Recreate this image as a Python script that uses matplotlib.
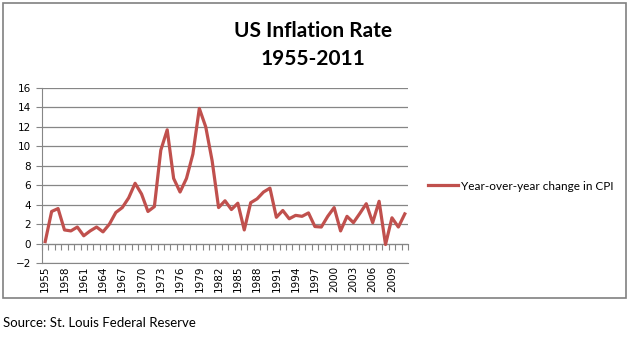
import numpy as np
import matplotlib
matplotlib.use("Agg")
import matplotlib.pyplot as plt
from matplotlib.patches import Rectangle

# ---------------- data ----------------
years = list(range(1955, 2012))
cpi_change = [
    0.2, 3.3, 3.6, 1.4, 1.3, 1.7, 0.8, 1.3, 1.7, 1.2,   # 1955-1964
    2.0, 3.2, 3.7, 4.7, 6.2, 5.1, 3.3, 3.8, 9.6, 11.7,  # 1965-1974
    6.7, 5.3, 6.7, 9.2, 13.9, 12.0, 8.5, 3.7, 4.4, 3.5,  # 1975-1984
    4.15, 1.4, 4.2, 4.6, 5.3, 5.7, 2.7, 3.4, 2.55, 2.9,  # 1985-1994
    2.8, 3.15, 1.75, 1.7, 2.8, 3.7, 1.3, 2.8, 2.15, 3.1,  # 1995-2004
    4.1, 2.15, 4.35, -0.1, 2.65, 1.7, 3.05,              # 2005-2011
]
label_years = years[::3]
y_ticks = list(range(-2, 17, 2))

title_text = "US Inflation Rate\n1955-2011"
legend_text = "Year-over-year change in CPI"
source_text = "Source: St. Louis Federal Reserve"

# ---------------- style ----------------
TEXT_FONT = ["Lato", "DejaVu Sans"]    # closest to Calibri
TICK_FONT = "DejaVu Sans"              # tick labels in the reference are Verdana-like
plt.rcParams["font.family"] = TEXT_FONT
LINE_RED = "#C0504D"
GRID_GRAY = "#868686"
W, H = 628, 337

fig = plt.figure(figsize=(W / 100, H / 100), dpi=100)
ax = fig.add_axes([42 / W, 1 - 263 / H, (408 - 42) / W, (263 - 88) / H])

x = np.arange(len(years))
line, = ax.plot(x, cpi_change, color=LINE_RED, lw=2.3, solid_joinstyle="round",
                label=legend_text)

ax.set_xlim(-0.5, len(years) - 0.5)
ax.set_ylim(-2, 16)
ax.set_yticks(y_ticks)
ax.yaxis.grid(True, color=GRID_GRAY, lw=0.9)
ax.set_axisbelow(True)

for s in ("top", "right"):
    ax.spines[s].set_visible(False)
ax.spines["left"].set_color(GRID_GRAY)
ax.spines["bottom"].set_color(GRID_GRAY)
ax.tick_params(axis="y", direction="out", length=4, color=GRID_GRAY,
               labelsize=7.5, pad=4, labelfontfamily=TICK_FONT)

# year labels at the bottom, every third year
ax.set_xticks([years.index(yr) for yr in label_years])
ax.set_xticklabels([str(yr) for yr in label_years], rotation=90)
ax.tick_params(axis="x", length=0, pad=2, labelsize=7.5,
               labelfontfamily=TICK_FONT)

# category axis crossing at zero, tick marks between categories
zero_frac = (0 - (-2)) / (16 - (-2))
sec = ax.secondary_xaxis(zero_frac)
sec.set_xticks(np.arange(-0.5, len(years), 1.0))
sec.tick_params(axis="x", direction="out", length=4, color=GRID_GRAY,
                labelbottom=False, labeltop=False)
sec.spines["bottom"].set_color(GRID_GRAY)
sec.spines["top"].set_visible(False)

fig.text(313 / W, 1 - 45 / H, title_text, ha="center", va="center",
         fontsize=15, fontweight="bold", linespacing=1.45)

fig.legend(handles=[line], loc="center left",
           bbox_to_anchor=(417 / W, 1 - 186 / H), frameon=False,
           fontsize=8.5, handlelength=2.6, handletextpad=0.2)

# chart border
fig.patches.append(Rectangle((3 / W, 1 - 298 / H), (626 - 3) / W, (298 - 3) / H,
                             transform=fig.transFigure, fill=False,
                             edgecolor="#808080", lw=1.2))

fig.text(3 / W, 1 - 323 / H, source_text, ha="left", va="center", fontsize=9.5)

fig.savefig("out.png", dpi=100)
